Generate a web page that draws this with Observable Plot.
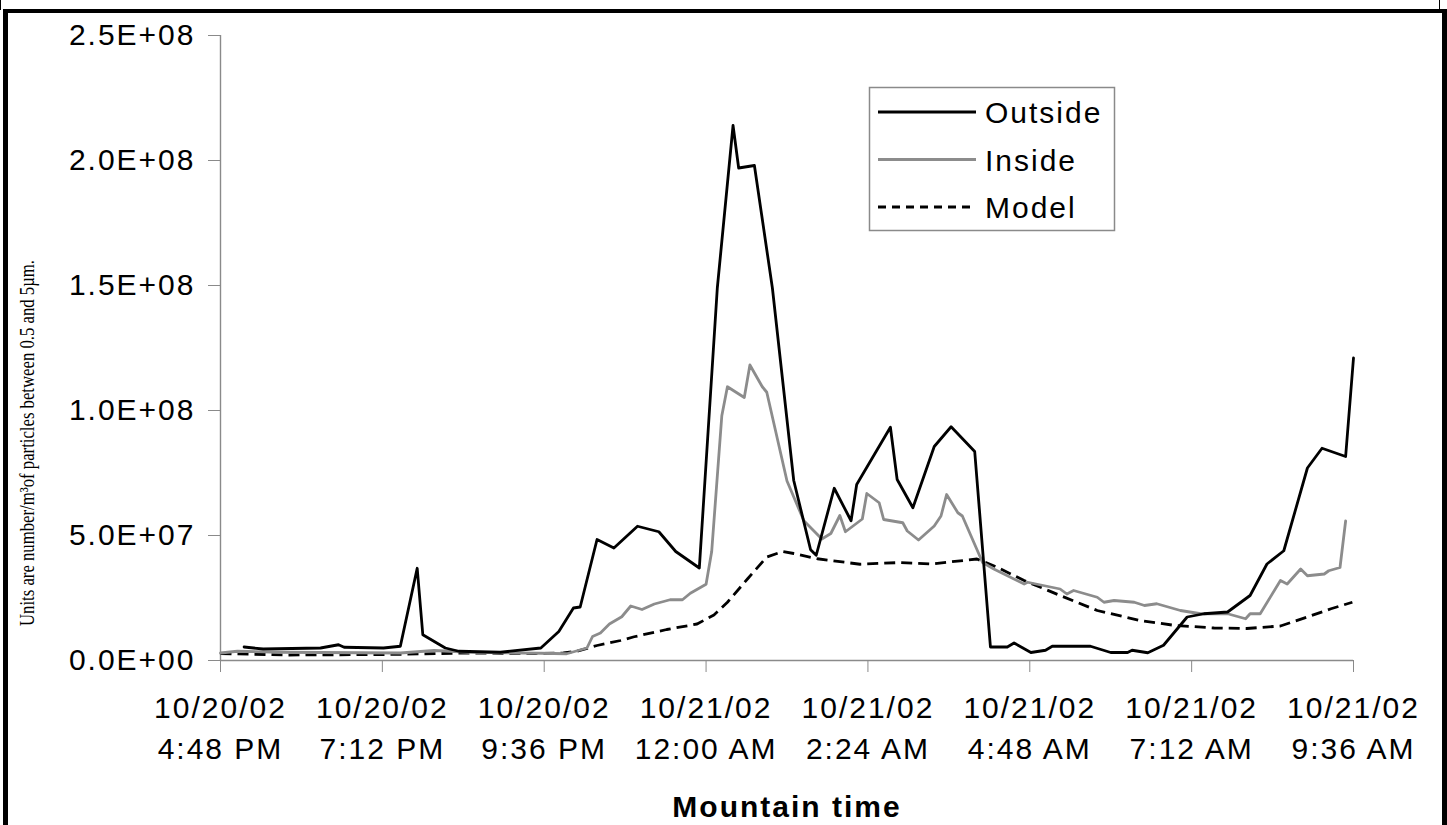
<!DOCTYPE html>
<html>
<head>
<meta charset="utf-8">
<script src="https://cdn.jsdelivr.net/npm/d3@7"></script>
<script src="https://cdn.jsdelivr.net/npm/@observablehq/plot@0.6"></script>
<style>
html, body { margin: 0; padding: 0; background: #fff; }
#wrap { position: relative; width: 1447px; height: 825px; overflow: hidden; background: #fff; }
#chart { position: absolute; left: 0; top: 0; }
#overlay { position: absolute; left: 0; top: 0; }
.frame { position: absolute; background: #000; }
#wrap svg text { letter-spacing: 2px; }
#wrap svg text.ylabel { letter-spacing: 0; }
</style>
</head>
<body>
<div id="wrap">
  <div id="chart"></div>
  <div class="frame" style="left:0px;top:0px;width:1px;height:10px"></div>
  <div class="frame" style="left:1439px;top:0px;width:1px;height:10px"></div>
  <div class="frame" style="left:3px;top:9px;width:5px;height:830px"></div>
  <div class="frame" style="left:3px;top:9px;width:1444px;height:4px"></div>
  <div class="frame" style="left:1442px;top:9px;width:5px;height:830px"></div>
</div>
<script>
// ---- Data (x = minutes after 10/20/02 4:48 PM, Mountain time) ----
const seriesNames = ["Outside", "Inside", "Model"];

const outsideTime = [21, 38, 89, 105, 110, 145, 160, 175, 180, 200, 212, 249, 285, 301, 314, 320,
  335, 350, 371, 390, 405, 426, 442, 456, 461, 475, 491, 510, 525, 530, 546, 561, 566, 596, 602,
  616, 635, 650, 671, 685, 700, 706, 721, 734, 740, 774, 792, 807, 811, 825, 839, 860, 875, 896,
  916, 931, 946, 967, 980, 1001, 1008];
const outsideValue = [5.4e6, 4.6e6, 5.0e6, 6.3e6, 5.3e6, 5.0e6, 5.7e6, 3.69e7, 1.03e7, 5.0e6, 3.7e6,
  3.3e6, 5.0e6, 1.16e7, 2.1e7, 2.14e7, 4.84e7, 4.5e7, 5.37e7, 5.15e7, 4.36e7, 3.7e7, 1.49e8, 2.14e8,
  1.97e8, 1.98e8, 1.49e8, 7.2e7, 4.43e7, 4.21e7, 6.89e7, 5.59e7, 7.04e7, 9.33e7, 7.24e7, 6.11e7,
  8.56e7, 9.35e7, 8.36e7, 5.4e6, 5.4e6, 7.0e6, 3.2e6, 4.1e6, 5.7e6, 5.7e6, 3.2e6, 3.2e6, 4.1e6,
  3.1e6, 6.1e6, 1.74e7, 1.87e7, 1.94e7, 2.6e7, 3.86e7, 4.39e7, 7.7e7, 8.49e7, 8.16e7, 1.21e8];

const insideTime = [0, 15, 53, 160, 190, 222, 285, 308, 326, 331, 338, 346, 357, 365, 375, 386,
  400, 411, 418, 432, 437, 446, 451, 466, 471, 482, 486, 504, 519, 535, 543, 551, 556, 571, 575,
  586, 590, 607, 611, 621, 635, 641, 646, 656, 660, 678, 688, 715, 718, 747, 753, 759, 780, 786,
  795, 813, 822, 833, 854, 872, 896, 912, 916, 925, 943, 949, 961, 967, 982, 986, 996, 1001];
const insideValue = [3.0e6, 3.7e6, 3.3e6, 3.0e6, 4.0e6, 3.3e6, 2.9e6, 2.7e6, 5.0e6, 9.6e6, 1.1e7,
  1.46e7, 1.75e7, 2.18e7, 2.04e7, 2.26e7, 2.43e7, 2.43e7, 2.69e7, 3.05e7, 4.36e7, 9.79e7, 1.095e8,
  1.052e8, 1.182e8, 1.095e8, 1.073e8, 7.18e7, 5.59e7, 4.86e7, 5.08e7, 5.8e7, 5.15e7, 5.66e7,
  6.68e7, 6.31e7, 5.64e7, 5.51e7, 5.18e7, 4.82e7, 5.38e7, 5.78e7, 6.64e7, 5.91e7, 5.78e7, 3.92e7,
  3.66e7, 3.06e7, 3.13e7, 2.86e7, 2.66e7, 2.8e7, 2.53e7, 2.33e7, 2.4e7, 2.33e7, 2.2e7, 2.27e7,
  2.0e7, 1.87e7, 1.87e7, 1.67e7, 1.87e7, 1.87e7, 3.2e7, 3.06e7, 3.66e7, 3.39e7, 3.46e7, 3.59e7,
  3.72e7, 5.58e7];

const modelTime = [0, 60, 150, 220, 280, 305, 317, 335, 356, 368, 397, 424, 439, 451, 469, 486,
  500, 510, 531, 569, 605, 632, 673, 690, 715, 747, 780, 818, 848, 884, 913, 943, 967, 988, 1007];
const modelValue = [2.8e6, 2.2e6, 2.4e6, 3.0e6, 2.8e6, 3.0e6, 3.7e6, 6.0e6, 8.0e6, 9.5e6, 1.24e7,
  1.46e7, 1.82e7, 2.33e7, 3.27e7, 4.14e7, 4.36e7, 4.28e7, 4.07e7, 3.85e7, 3.92e7, 3.86e7, 4.06e7,
  3.75e7, 3.2e7, 2.6e7, 2.0e7, 1.6e7, 1.41e7, 1.3e7, 1.28e7, 1.38e7, 1.74e7, 2.07e7, 2.33e7];

const xTicks = [0, 144, 288, 432, 576, 720, 864, 1008];
const xTickLabels = [
  "10/20/02\n4:48 PM", "10/20/02\n7:12 PM", "10/20/02\n9:36 PM", "10/21/02\n12:00 AM",
  "10/21/02\n2:24 AM", "10/21/02\n4:48 AM", "10/21/02\n7:12 AM", "10/21/02\n9:36 AM"
];
const yTicks = [0, 5e7, 1e8, 1.5e8, 2e8, 2.5e8];
const yTickLabels = ["0.0E+00", "5.0E+07", "1.0E+08", "1.5E+08", "2.0E+08", "2.5E+08"];

const xTitle = "Mountain time";
const yTitle = "Units are number/m\u00B3of particles between 0.5 and 5\u00B5m.";

// ---- Build tables ----
const toRows = (times, values, name) => times.map((t, i) => ({t, v: values[i], series: name}));
const outsideRows = toRows(outsideTime, outsideValue, seriesNames[0]);
const insideRows = toRows(insideTime, insideValue, seriesNames[1]);
const modelRows = toRows(modelTime, modelValue, seriesNames[2]);

const sans = "'Liberation Sans', Arial, Helvetica, sans-serif";
const serif = "'Liberation Serif', 'Times New Roman', serif";
const axisGray = "#8a8a8a";
const insideGray = "#8c8c8c";
const lineW = 2.8;
const styles = {
  Outside: {stroke: "#000", dash: null},
  Inside: {stroke: insideGray, dash: null},
  Model: {stroke: "#000", dash: "11,6"}
};

const plot = Plot.plot({
  width: 1447,
  height: 825,
  marginLeft: 220,
  marginRight: 94,
  marginTop: 35,
  marginBottom: 165,
  x: {domain: [0, 1008]},
  y: {domain: [0, 2.5e8]},
  marks: [
    Plot.ruleX([0], {stroke: axisGray, strokeWidth: 1.4}),
    Plot.ruleY([0], {stroke: axisGray, strokeWidth: 1.4}),
    Plot.axisY({
      ticks: yTicks, tickFormat: (d, i) => yTickLabels[yTicks.indexOf(d)],
      tickSize: 12, tickPadding: 13, stroke: axisGray, fill: "#000",
      fontSize: 30, fontFamily: sans, label: null
    }),
    Plot.axisX({
      ticks: xTicks, tickFormat: (d) => xTickLabels[xTicks.indexOf(d)],
      tickSize: 12, tickPadding: 16, stroke: axisGray, fill: "#000",
      fontSize: 30, fontFamily: sans, lineHeight: 1.37, label: null
    }),
    Plot.line(modelRows, {x: "t", y: "v", stroke: styles.Model.stroke, strokeWidth: lineW,
      strokeDasharray: styles.Model.dash, strokeLinecap: "butt"}),
    Plot.line(insideRows, {x: "t", y: "v", stroke: styles.Inside.stroke, strokeWidth: lineW}),
    Plot.line(outsideRows, {x: "t", y: "v", stroke: styles.Outside.stroke, strokeWidth: lineW}),
    Plot.text([xTitle], {frameAnchor: "bottom", dy: 147, lineAnchor: "middle",
      fontSize: 30, fontWeight: "bold", fontFamily: sans, fill: "#000"})
  ]
});
document.getElementById("chart").appendChild(plot);

// ---- Overlay: rotated y-axis title and legend ----
const overlay = d3.select("#wrap").append("svg")
  .attr("id", "overlay").attr("width", 1447).attr("height", 825)
  .style("pointer-events", "none");

overlay.append("text")
  .attr("class", "ylabel")
  .attr("transform", "translate(27,443) rotate(-90)")
  .attr("text-anchor", "middle")
  .attr("dominant-baseline", "central")
  .attr("font-family", serif).attr("font-size", 21).attr("fill", "#000")
  .attr("textLength", 366).attr("lengthAdjust", "spacingAndGlyphs")
  .text(yTitle);

overlay.append("rect")
  .attr("x", 869.5).attr("y", 87.5).attr("width", 245).attr("height", 143)
  .attr("fill", "#fff").attr("stroke", axisGray).attr("stroke-width", 1.5);
seriesNames.forEach((name, i) => {
  const cy = 112 + i * 47.5;
  overlay.append("line")
    .attr("x1", 878).attr("x2", 976).attr("y1", cy).attr("y2", cy)
    .attr("stroke", styles[name].stroke).attr("stroke-width", lineW)
    .attr("stroke-dasharray", name === "Model" ? "8,6" : null);
  overlay.append("text")
    .attr("x", 985).attr("y", cy + 11)
    .attr("font-family", sans).attr("font-size", 30).attr("fill", "#000")
    .text(name);
});
</script>
</body>
</html>
